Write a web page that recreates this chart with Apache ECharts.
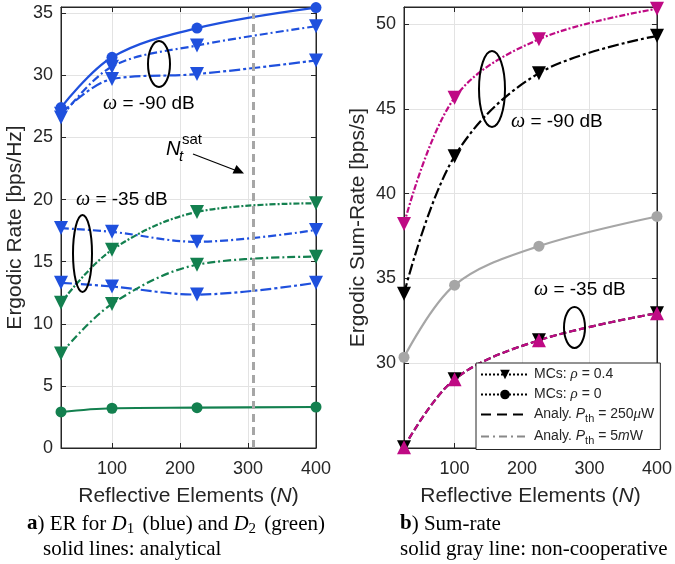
<!DOCTYPE html>
<html><head><meta charset="utf-8">
<script src="https://cdn.jsdelivr.net/npm/echarts@6/dist/echarts.min.js"></script>
<style>html,body{margin:0;padding:0;background:#fff}#c{width:675px;height:564px}</style>
</head><body><div id="c"></div>
<script>
// Reflective elements N and axis ticks
const N = [25, 100, 225, 400];
const xTicks = [100, 200, 300, 400];
const yTicksER = [0, 5, 10, 15, 20, 25, 30, 35];
const yTicksSR = [30, 35, 40, 45, 50];

// (a) ergodic rate: D1 (blue), D2 (green)
const d1Mc0_90 = [27.4, 31.45, 33.8, 35.45];
const d1Hi_90 = [26.6, 30.7, 32.4, 33.95];
const d1Lo_90 = [26.9, 29.7, 30.1, 31.2];
const d1Hi_35 = [17.7, 17.4, 16.6, 17.55];
const d1Lo_35 = [13.3, 13.0, 12.35, 13.3];
const d2Hi_35 = [11.7, 15.95, 19.0, 19.7];
const d2Lo_35 = [7.6, 11.6, 14.75, 15.4];
const d2Mc0 = [2.9, 3.2, 3.25, 3.3];
const nSat = 308;
const nSatTop = 35;

// (b) sum-rate
const srMag_90 = [38.2, 45.65, 49.1, 50.9];
const srBlk_90 = [34.1, 42.2, 47.1, 49.3];
const srNonCoop = [30.35, 34.6, 36.9, 38.65];
const srBlk_35 = [25.05, 29.05, 31.35, 32.95];
const srMag_35 = [25.05, 29.05, 31.35, 32.95];

const BLUE = '#1f50dd', GREEN = '#13804f', MAG = '#bf0a84', GRAY = '#a6a6a6', INK = '#262626';
const FONT = 'Liberation Sans';
const SERIF = 'Liberation Serif';

const pairs = ys => N.map((n, i) => [n, ys[i]]);

function xAxes(gi) {
  const base = {
    gridIndex: gi, type: 'value', min: 25, max: 400,
    axisLine: { show: true, onZero: false, lineStyle: { color: INK, width: 1 } },
    axisTick: { show: true, inside: true, length: 5, customValues: xTicks, lineStyle: { color: INK } },
  };
  return [
    Object.assign({}, base, {
      position: 'bottom',
      axisLabel: { customValues: xTicks, color: INK, fontFamily: FONT, fontSize: 18, margin: 12 },
      splitLine: { show: true, lineStyle: { color: '#e3e3e3', width: 1 } },
      name: 'Reflective Elements ({i|N})', nameLocation: 'middle', nameGap: 38,
      nameTextStyle: { color: INK, fontFamily: FONT, fontSize: 21,
        rich: { i: { fontStyle: 'italic', fontFamily: FONT, fontSize: 21, color: INK } } }
    }),
    Object.assign({}, base, { position: 'top', axisLabel: { show: false }, splitLine: { show: false } })
  ];
}

function yAxes(gi, min, max, ticks, name) {
  const base = {
    gridIndex: gi, type: 'value', min: min, max: max,
    axisLine: { show: true, onZero: false, lineStyle: { color: INK, width: 1 } },
    axisTick: { show: true, inside: true, length: 5, customValues: ticks, lineStyle: { color: INK } },
  };
  return [
    Object.assign({}, base, {
      position: 'left',
      axisLabel: { customValues: ticks, color: INK, fontFamily: FONT, fontSize: 18, margin: 8 },
      splitLine: { show: true, lineStyle: { color: '#e3e3e3', width: 1 } },
      name: name, nameLocation: 'middle', nameGap: 35,
      nameTextStyle: { color: INK, fontFamily: FONT, fontSize: 21 }
    }),
    Object.assign({}, base, { position: 'right', axisLabel: { show: false }, splitLine: { show: false } })
  ];
}

function line(name, xi, yi, ys, color, dash, sym, opts) {
  return Object.assign({
    name: name, type: 'line', xAxisIndex: xi, yAxisIndex: yi,
    data: pairs(ys), smooth: 0.35,
    symbol: sym === 'down' ? 'triangle' : (sym === 'up' ? 'triangle' : sym),
    symbolRotate: sym === 'down' ? 180 : 0,
    symbolSize: sym === 'circle' ? 11 : 14,
    showSymbol: true,
    itemStyle: { color: color },
    lineStyle: { color: color, width: 2.2, type: dash },
    emphasis: { disabled: true }, z: 3, silent: true
  }, opts || {});
}

const DASHDOT = [8, 3, 2, 3];
const DASHDOT2 = [11, 3, 3, 3];
const DENSE = [6, 2, 2, 2];
const DASH = [7, 3];

const series = [
  // (a)
  line('d1_mc0_90', 0, 0, d1Mc0_90, BLUE, 'solid', 'circle'),
  line('d1_hi_90', 0, 0, d1Hi_90, BLUE, DASHDOT, 'down'),
  line('d1_lo_90', 0, 0, d1Lo_90, BLUE, DASHDOT2, 'down'),
  line('d1_hi_35', 0, 0, d1Hi_35, BLUE, DASHDOT, 'down'),
  line('d1_lo_35', 0, 0, d1Lo_35, BLUE, DASHDOT2, 'down'),
  line('d2_hi_35', 0, 0, d2Hi_35, GREEN, DENSE, 'down'),
  line('d2_lo_35', 0, 0, d2Lo_35, GREEN, DASHDOT, 'down'),
  line('d2_mc0', 0, 0, d2Mc0, GREEN, 'solid', 'circle', {
    markLine: {
      silent: true, symbol: ['none', 'none'], label: { show: false },
      lineStyle: { color: GRAY, width: 3, type: [8, 5] },
      data: [[{ coord: [nSat, 0] }, { coord: [nSat, nSatTop] }]]
    }
  }),
  // (b)
  line('sr_mag_90', 2, 2, srMag_90, MAG, DENSE, 'down'),
  line('sr_blk_90', 2, 2, srBlk_90, '#000', DASHDOT2, 'down'),
  line('sr_nc', 2, 2, srNonCoop, GRAY, 'solid', 'circle'),
  line('sr_blk_35', 2, 2, srBlk_35, '#000', DASH, 'down'),
  line('sr_mag_35', 2, 2, srMag_35, MAG, DASH, 'up'),
  // legend entries
  { name: 'MCs: {g|ρ} = 0.4', type: 'line', xAxisIndex: 2, yAxisIndex: 2, data: [],
    symbol: 'triangle', symbolRotate: 180, itemStyle: { color: '#000' }, lineStyle: { color: '#000', width: 2, type: 'dotted' } },
  { name: 'MCs: {g|ρ} = 0', type: 'line', xAxisIndex: 2, yAxisIndex: 2, data: [],
    symbol: 'circle', itemStyle: { color: '#000' }, lineStyle: { color: '#000', width: 2, type: 'dotted' } },
  { name: 'Analy. {i|P}{s|th} = 250{g|μ}W', type: 'line', xAxisIndex: 2, yAxisIndex: 2, data: [],
    symbol: 'circle', itemStyle: { color: 'rgba(0,0,0,0)' }, lineStyle: { color: '#000', width: 1.5, type: [10, 6] } },
  { name: 'Analy. {i|P}{s|th} = 5{i|m}W', type: 'line', xAxisIndex: 2, yAxisIndex: 2, data: [],
    symbol: 'circle', itemStyle: { color: 'rgba(0,0,0,0)' }, lineStyle: { color: '#888', width: 1.5, type: [8, 4, 2, 4] } }
];

const annoText = { fontFamily: FONT, fontSize: 19, fill: '#000' };
const omegaRich = { w: { fontFamily: SERIF, fontStyle: 'italic', fontSize: 20 } };
function ellipse(cx, cy, rx, ry) {
  return { type: 'ellipse', shape: { cx: cx, cy: cy, rx: rx, ry: ry }, style: { fill: 'none', stroke: '#000', lineWidth: 2 }, z: 10 };
}
function label(x, y, text, extra) {
  return { type: 'text', x: x, y: y, z: 10,
    style: Object.assign({ text: text, rich: omegaRich, verticalAlign: 'middle' }, annoText, extra || {}) };
}

const CAP = 21;
const captionRich = {
  b: { fontFamily: SERIF, fontWeight: 'bold', fontSize: CAP, fill: '#000' },
  i: { fontFamily: SERIF, fontStyle: 'italic', fontSize: CAP, fill: '#000' },
  s: { fontFamily: SERIF, fontSize: 15, fill: '#000', padding: [10, 3, 0, 0] }
};
function caption(x, y, text) {
  return { type: 'text', x: x, y: y, z: 10,
    style: { text: text, rich: captionRich, fontFamily: SERIF, fontSize: CAP, fill: '#000', verticalAlign: 'middle' } };
}

const option = {
  backgroundColor: '#fff',
  animation: false,
  grid: [
    { left: 61, top: 7, width: 255, height: 441, show: true, borderColor: INK, borderWidth: 1, backgroundColor: 'transparent' },
    { left: 404, top: 7, width: 255, height: 441, show: true, borderColor: INK, borderWidth: 1, backgroundColor: 'transparent' }
  ],
  xAxis: xAxes(0).concat(xAxes(1)),
  yAxis: yAxes(0, 0, 35.5, yTicksER, 'Ergodic Rate [bps/Hz]').concat(yAxes(1, 25, 51, yTicksSR, 'Ergodic Sum-Rate [bps/s]')),
  series: series,
  legend: {
    data: series.slice(13).map(s => s.name),
    orient: 'vertical', left: 476, top: 363,
    padding: [4, 6, 3, 4], itemWidth: 48, itemHeight: 12, itemGap: 5,
    backgroundColor: '#fff', borderColor: INK, borderWidth: 1, borderRadius: 0,
    selectedMode: false, z: 20,
    textStyle: { fontFamily: FONT, fontSize: 14, color: INK,
      rich: {
        g: { fontFamily: SERIF, fontStyle: 'italic', fontSize: 15, color: INK },
        i: { fontFamily: FONT, fontStyle: 'italic', fontSize: 14, color: INK },
        s: { fontFamily: FONT, fontSize: 11, color: INK, padding: [9, 0, 0, 0] }
      } }
  },
  graphic: [
    // panel (a)
    ellipse(159, 64, 11, 23),
    label(103, 104, '{w|ω} = -90 dB'),
    ellipse(82.5, 253.5, 9.5, 38.5),
    label(76, 200, '{w|ω} = -35 dB'),
    { type: 'text', x: 166, y: 149, z: 10, style: { text: 'N', fontFamily: FONT, fontStyle: 'italic', fontSize: 20, fill: '#000', verticalAlign: 'middle' } },
    { type: 'text', x: 182, y: 140, z: 10, style: { text: 'sat', fontFamily: FONT, fontSize: 15, fill: '#000', verticalAlign: 'middle' } },
    { type: 'text', x: 179, y: 157, z: 10, style: { text: 't', fontFamily: FONT, fontStyle: 'italic', fontSize: 15, fill: '#000', verticalAlign: 'middle' } },
    { type: 'line', shape: { x1: 193, y1: 154, x2: 236, y2: 170.5 }, style: { stroke: '#000', lineWidth: 1.2 }, z: 10 },
    { type: 'polygon', shape: { points: [[244, 173.5], [232.5, 173.5], [236.5, 165]] }, style: { fill: '#000' }, z: 10 },
    // panel (b)
    ellipse(492, 89, 13, 38),
    label(511, 122, '{w|ω} = -90 dB'),
    ellipse(574.5, 327.5, 10.5, 20.5),
    label(534, 290, '{w|ω} = -35 dB'),
    // captions
    caption(27, 524, '{b|a}) ER for {i|D}{s|1} (blue) and {i|D}{s|2} (green)'),
    caption(43, 549, 'solid lines: analytical'),
    caption(400, 524, '{b|b}) Sum-rate'),
    caption(400, 549, 'solid gray line: non-cooperative')
  ]
};

const chart = echarts.init(document.getElementById('c'), null, { renderer: 'canvas' });
chart.setOption(option);
</script>
</body></html>
